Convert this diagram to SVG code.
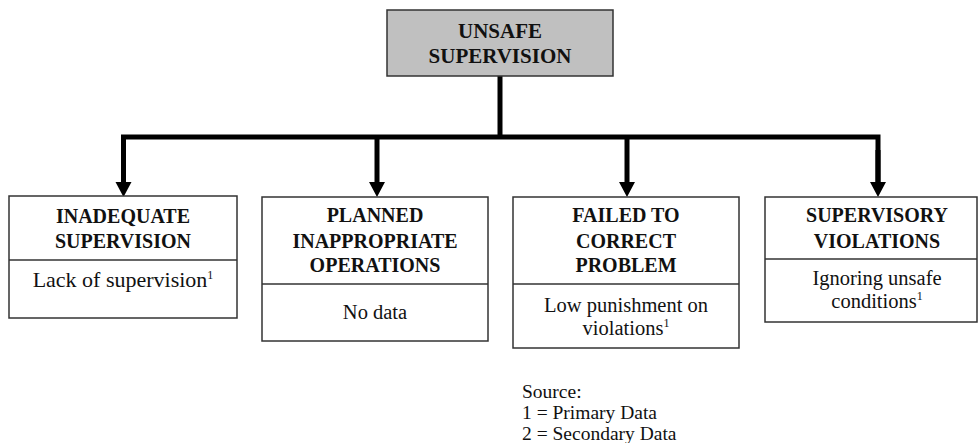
<svg xmlns="http://www.w3.org/2000/svg" width="980" height="443" viewBox="0 0 980 443">
  <style>
    .box { fill: #ffffff; stroke: #333333; stroke-width: 1.5; }
    .root { fill: #c0c0c0; stroke: #333333; stroke-width: 1.5; }
    .div { stroke: #333333; stroke-width: 1.5; }
    text { font-family: 'Liberation Serif', serif; fill: #111111; }
    .title { font-weight: bold; font-size: 20px; text-anchor: middle; }
    .title.big { font-size: 21px; }
    .body { font-size: 20.5px; text-anchor: middle; }
    .body.wide { font-size: 22px; }
    .sup { font-size: 12px; }
    .note { font-size: 19.5px; }
    .wire { fill: none; stroke: #000000; stroke-width: 5; stroke-linejoin: miter; }
  </style>
  <defs>
    <marker id="arrow" markerUnits="userSpaceOnUse" markerWidth="16" markerHeight="18" refX="8" refY="0" orient="0" overflow="visible">
      <path d="M0,0 L16,0 L8,15 Z" fill="#000000"/>
    </marker>
  </defs>

  <!-- connectors -->
  <g id="connectors">
    <path class="wire" d="M500,76 V137"/>
    <path class="wire" d="M123.5,182 V137 H878 V182"/>
    <path class="wire" d="M123.5,150 V182" marker-end="url(#arrow)"/>
    <path class="wire" d="M377,137 V182" marker-end="url(#arrow)"/>
    <path class="wire" d="M627,137 V182" marker-end="url(#arrow)"/>
    <path class="wire" d="M878,150 V182" marker-end="url(#arrow)"/>
  </g>

  <!-- root -->
  <g id="unsafe-supervision">
    <rect class="root" x="387" y="10" width="226" height="66"/>
    <text class="title big" x="500" y="38">UNSAFE</text>
    <text class="title big" x="500" y="63">SUPERVISION</text>
  </g>

  <g id="inadequate-supervision">
    <rect class="box" x="9" y="196" width="228" height="122"/>
    <line class="div" x1="9" y1="260" x2="237" y2="260"/>
    <text class="title" x="123" y="223">INADEQUATE</text>
    <text class="title" x="123" y="248">SUPERVISION</text>
    <text class="body wide" x="123" y="287">Lack of supervision<tspan class="sup" dy="-8">1</tspan></text>
  </g>

  <g id="planned-inappropriate-operations">
    <rect class="box" x="262" y="197" width="226" height="144"/>
    <line class="div" x1="262" y1="284" x2="488" y2="284"/>
    <text class="title" x="375" y="222">PLANNED</text>
    <text class="title" x="375" y="248">INAPPROPRIATE</text>
    <text class="title" x="375" y="272">OPERATIONS</text>
    <text class="body" x="375" y="319">No data</text>
  </g>

  <g id="failed-to-correct-problem">
    <rect class="box" x="513" y="197" width="226" height="151"/>
    <line class="div" x1="513" y1="284" x2="739" y2="284"/>
    <text class="title" x="626" y="222">FAILED TO</text>
    <text class="title" x="626" y="248">CORRECT</text>
    <text class="title" x="626" y="272">PROBLEM</text>
    <text class="body" x="626" y="312">Low punishment on</text>
    <text class="body" x="626" y="335">violations<tspan class="sup" dy="-8">1</tspan></text>
  </g>

  <g id="supervisory-violations">
    <rect class="box" x="765" y="197" width="212" height="125"/>
    <line class="div" x1="765" y1="259" x2="977" y2="259"/>
    <text class="title" x="877" y="222">SUPERVISORY</text>
    <text class="title" x="877" y="248">VIOLATIONS</text>
    <text class="body" x="877" y="285">Ignoring unsafe</text>
    <text class="body" x="877" y="308">conditions<tspan class="sup" dy="-8">1</tspan></text>
  </g>

  <g id="source-note">
    <text class="note" x="522" y="398">Source:</text>
    <text class="note" x="522" y="419">1 = Primary Data</text>
    <text class="note" x="522" y="440">2 = Secondary Data</text>
  </g>
</svg>
